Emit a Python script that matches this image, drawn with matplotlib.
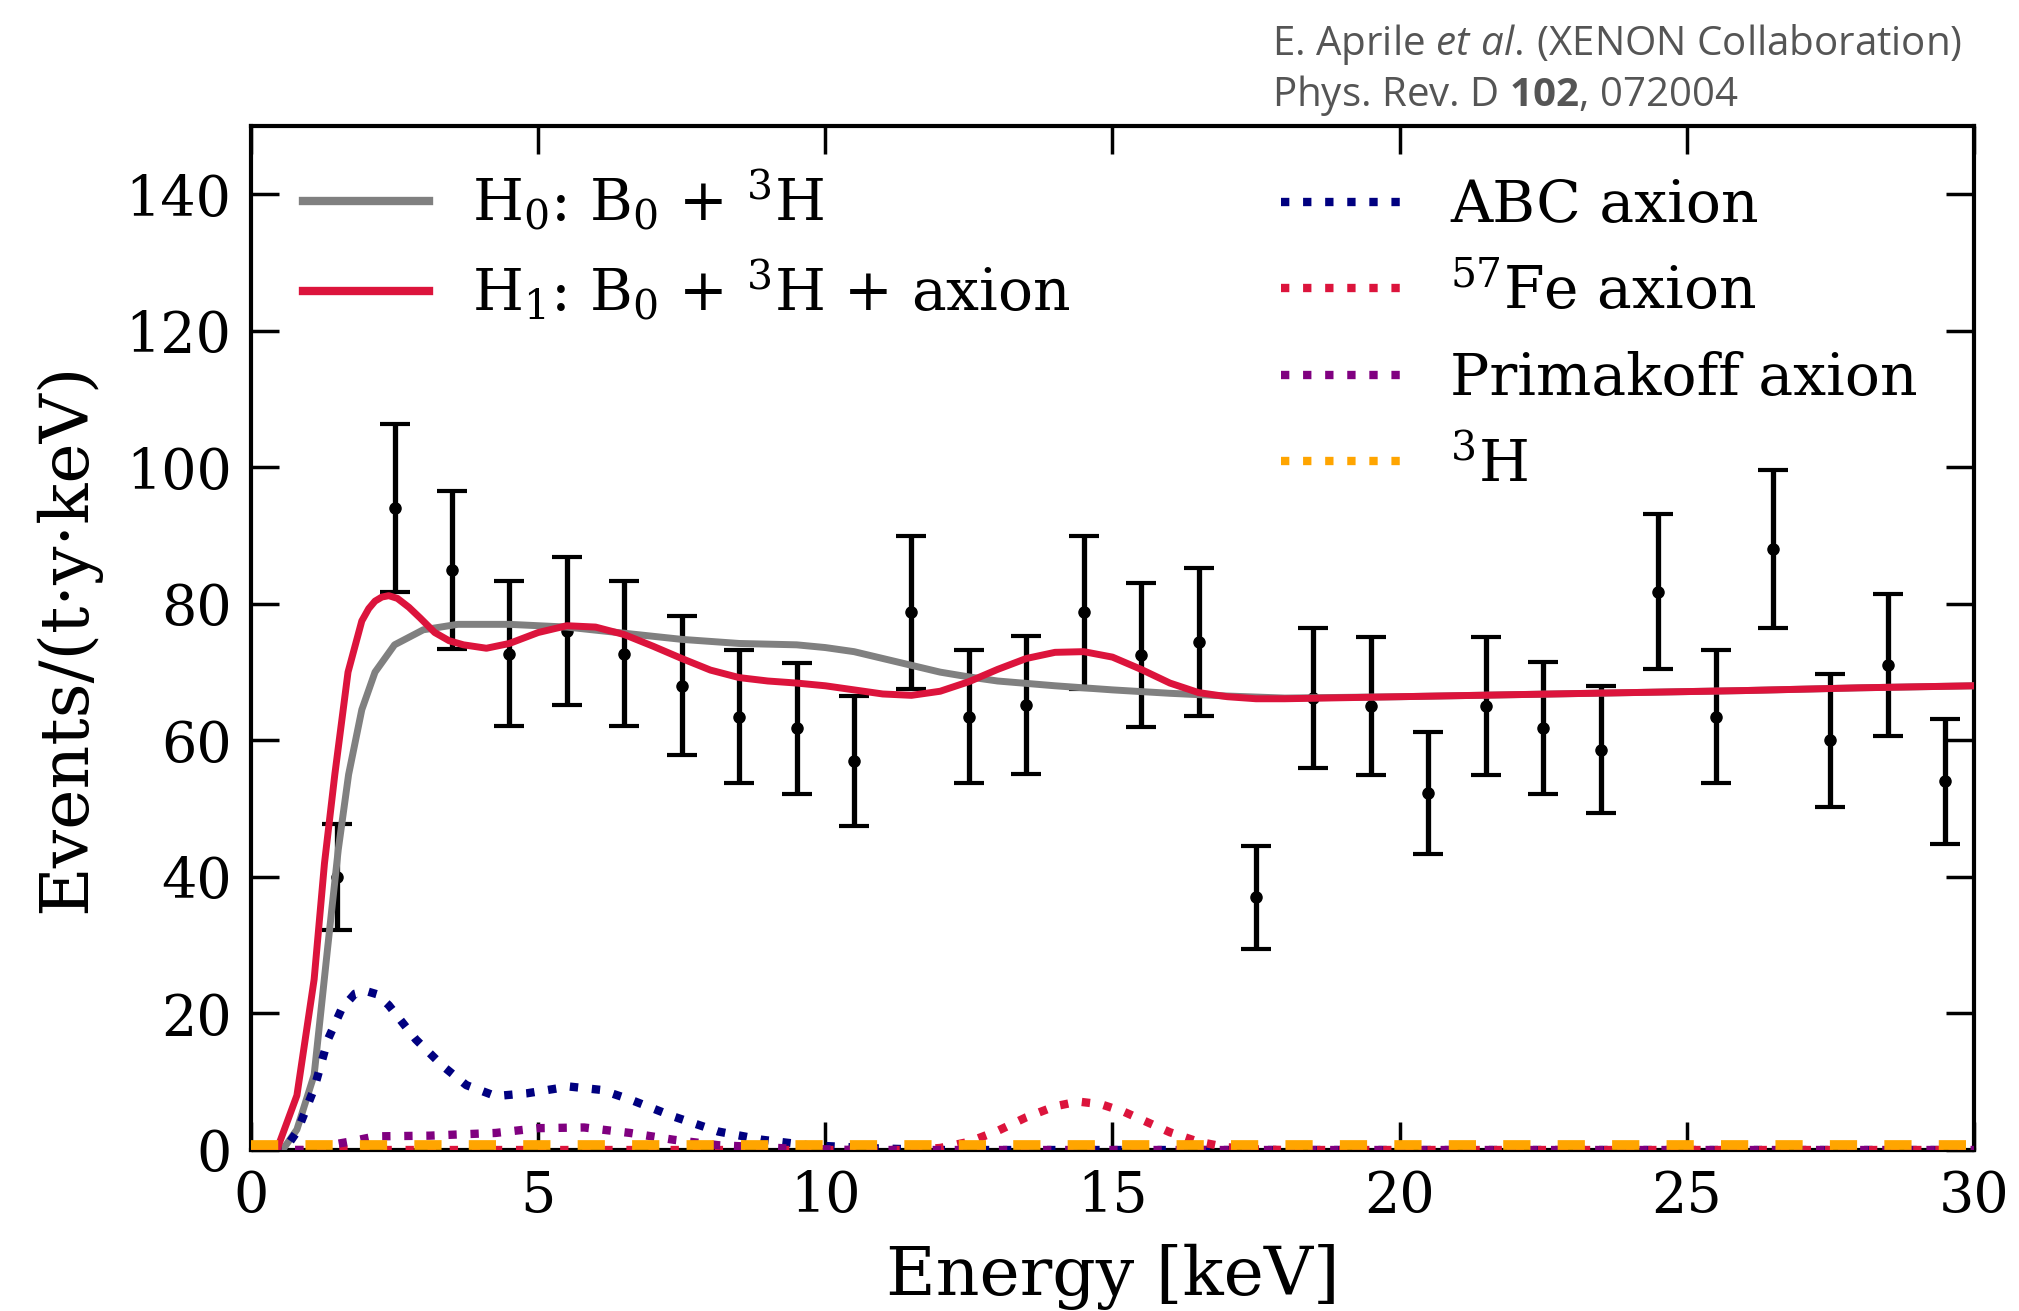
import numpy as np
import matplotlib
matplotlib.use("Agg")
import matplotlib.pyplot as plt
from matplotlib.lines import Line2D

plt.rcParams['font.family'] = ['DejaVu Serif']
plt.rcParams['mathtext.fontset'] = 'dejavuserif'
plt.rcParams['mathtext.rm'] = 'Open Sans'
plt.rcParams['mathtext.it'] = 'Open Sans:italic'
plt.rcParams['mathtext.bf'] = 'Open Sans:bold'

# measured spectrum (1 keV bins)
bin_centers = [1.5, 2.5, 3.5, 4.5, 5.5, 6.5, 7.5, 8.5, 9.5, 10.5, 11.5, 12.5, 13.5, 14.5, 15.5,
               16.5, 17.5, 18.5, 19.5, 20.5, 21.5, 22.5, 23.5, 24.5, 25.5, 26.5, 27.5, 28.5, 29.5]
rates = [40.0, 94.0, 85.0, 72.7, 76.0, 72.7, 68.0, 63.5, 61.8, 57.0, 78.8, 63.5, 65.2, 78.8, 72.5,
         74.4, 37.0, 66.2, 65.0, 52.3, 65.0, 61.8, 58.6, 81.8, 63.5, 88.0, 60.0, 71.0, 54.0]
rate_err = [7.8, 12.3, 11.6, 10.6, 10.8, 10.6, 10.2, 9.8, 9.6, 9.5, 11.2, 9.8, 10.1, 11.2, 10.6,
            10.8, 7.6, 10.3, 10.1, 8.9, 10.1, 9.7, 9.3, 11.3, 9.8, 11.6, 9.7, 10.4, 9.2]

# H0 fit: B0 + 3H
h0_e = [0.0, 0.55, 0.8, 1.1, 1.34, 1.52, 1.7, 1.93, 2.16, 2.5, 3.0, 3.6, 4.5, 5.5, 6.5, 7.5,
        8.5, 9.5, 10.0, 10.5, 11.0, 11.5, 12.0, 12.5, 13.0, 14.0, 15.0, 16.0, 17.0, 18.0, 19.0,
        20.0, 22.0, 24.0, 26.0, 28.0, 30.0]
h0_rate = [0.0, 0.0, 3.0, 11.0, 30.0, 44.0, 55.0, 64.5, 70.0, 74.0, 76.2, 77.0, 77.0, 76.6, 75.7, 74.8,
           74.2, 74.0, 73.6, 73.0, 72.0, 71.0, 70.0, 69.3, 68.7, 68.0, 67.4, 66.9, 66.5, 66.2, 66.3,
           66.4, 66.7, 67.0, 67.3, 67.7, 68.0]

# H1 fit: B0 + 3H + axion
h1_e = [0.0, 0.45, 0.8, 1.1, 1.28, 1.46, 1.69, 1.93, 2.05, 2.16, 2.28, 2.4, 2.55, 2.75, 2.95, 3.2,
        3.45, 3.7, 4.1, 4.5, 5.0, 5.5, 6.0, 6.5, 7.0, 7.5, 8.0, 8.5, 9.0, 9.5, 10.0, 10.5, 11.0,
        11.5, 12.0, 12.5, 13.0, 13.5, 14.0, 14.5, 15.0, 15.5, 16.0, 16.5, 17.0, 17.5, 18.0, 20.0,
        22.0, 24.0, 26.0, 28.0, 30.0]
h1_rate = [0.0, 0.0, 8.0, 25.0, 42.0, 55.0, 70.0, 77.5, 79.3, 80.4, 81.0, 81.2, 80.8, 79.5, 77.9, 75.8,
           74.6, 74.0, 73.5, 74.2, 75.8, 76.8, 76.6, 75.5, 73.8, 72.0, 70.3, 69.2, 68.7, 68.4, 68.0,
           67.4, 66.8, 66.6, 67.2, 68.6, 70.4, 72.0, 72.9, 73.0, 72.2, 70.4, 68.4, 67.0, 66.4, 66.1,
           66.1, 66.4, 66.7, 67.0, 67.3, 67.7, 68.0]

# ABC axion component
abc_e = [0.0, 0.58, 0.81, 1.1, 1.34, 1.58, 1.81, 2.0, 2.2, 2.4, 2.87, 3.34, 3.75, 4.26, 4.8,
         5.54, 6.1, 6.6, 7.36, 8.14, 8.9, 9.7, 10.85, 12.0, 30.0]
abc_rate = [0.0, 0.0, 2.8, 9.0, 16.2, 20.7, 22.9, 23.3, 22.8, 21.2, 16.2, 12.3, 9.5, 7.9, 8.3,
            9.3, 8.8, 7.4, 4.9, 2.7, 1.5, 0.7, 0.25, 0.0, 0.0]

# 57Fe axion component
fe_e = [0.0, 11.5, 12.0, 12.5, 13.0, 13.5, 14.0, 14.4, 14.8, 15.2, 15.6, 16.0, 16.5, 17.0, 17.5, 18.0, 30.0]
fe_rate = [0.0, 0.0, 0.3, 1.2, 2.8, 4.8, 6.4, 7.1, 6.7, 5.6, 4.1, 2.6, 1.2, 0.4, 0.1, 0.0, 0.0]

# Primakoff axion component
prim_e = [0.0, 0.93, 1.3, 1.7, 2.17, 3.1, 4.26, 5.0, 5.8, 6.6, 7.36, 8.14, 9.3, 10.5, 30.0]
prim_rate = [0.0, 0.0, 0.6, 1.2, 2.0, 2.1, 2.5, 3.2, 3.3, 2.5, 1.5, 0.7, 0.25, 0.0, 0.0]

# tritium component
h3_e = [0.0, 30.0]
h3_rate = [0.7, 0.7]

fig = plt.figure(figsize=(20.19, 13.11), dpi=100)
ax = fig.add_axes([0.1243, 0.1228, 0.8534, 0.7811])

ax.errorbar(bin_centers, rates, yerr=rate_err, fmt='o', color='black', ms=8,
            elinewidth=3.8, capsize=11, capthick=3, zorder=2)

ax.plot(h0_e, h0_rate, color='gray', lw=5, zorder=3)
ax.plot(h1_e, h1_rate, color='crimson', lw=5, zorder=4)
ax.plot(abc_e, abc_rate, color='navy', lw=6, ls=':', zorder=3)
ax.plot(fe_e, fe_rate, color='crimson', lw=6, ls=':', zorder=3)
ax.plot(prim_e, prim_rate, color='purple', lw=6, ls=':', zorder=3)
ax.plot(h3_e, h3_rate, color='orange', lw=7, dashes=(2.8, 2.8), zorder=5)

ax.set_xlim(0, 30)
ax.set_ylim(0, 150)
ax.set_xticks([0, 5, 10, 15, 20, 25, 30])
ax.set_yticks([0, 20, 40, 60, 80, 100, 120, 140])
ax.tick_params(direction='in', top=True, right=True, length=20, width=2.5,
               labelsize=40, pad=14)
for s in ax.spines.values():
    s.set_linewidth(3)

ax.set_xlabel('Energy [keV]', fontsize=49, labelpad=14)
ax.set_ylabel('Events/(t\u00b7y\u00b7keV)', fontsize=49, labelpad=18)

# legends
fit_handles = [Line2D([], [], color='gray', lw=6), Line2D([], [], color='crimson', lw=6)]
fit_labels = [r'H$_0$: B$_0$ + $^3$H', r'H$_1$: B$_0$ + $^3$H + axion']
leg1 = ax.legend(fit_handles, fit_labels, loc='upper left', bbox_to_anchor=(0.03, 0.959),
                 frameon=False, fontsize=42, handlelength=2.16, handletextpad=0.74,
                 labelspacing=0.43, borderpad=0, borderaxespad=0)
ax.add_artist(leg1)

comp_handles = [Line2D([], [], color='navy', lw=6, ls=':'),
                Line2D([], [], color='crimson', lw=6, ls=':'),
                Line2D([], [], color='purple', lw=6, ls=':'),
                Line2D([], [], color='orange', lw=6, ls=':')]
comp_labels = ['ABC axion', r'$^{57}$Fe axion', 'Primakoff axion', r'$^3$H']
ax.legend(comp_handles, comp_labels, loc='upper left', bbox_to_anchor=(0.598, 0.949),
          frameon=False, fontsize=42, handlelength=2.16, handletextpad=0.74,
          labelspacing=0.52, borderpad=0, borderaxespad=0)

# citation
fig.text(0.630, 0.958, r'E. Aprile $\mathit{et\ al.}\,$(XENON Collaboration)', fontsize=29,
         color='#555555', family='Open Sans', math_fontfamily='custom')
fig.text(0.630, 0.919, r'Phys. Rev. D $\mathbf{102}$, 072004', fontsize=29,
         color='#555555', family='Open Sans', math_fontfamily='custom')

fig.savefig('out.png', dpi=100)
